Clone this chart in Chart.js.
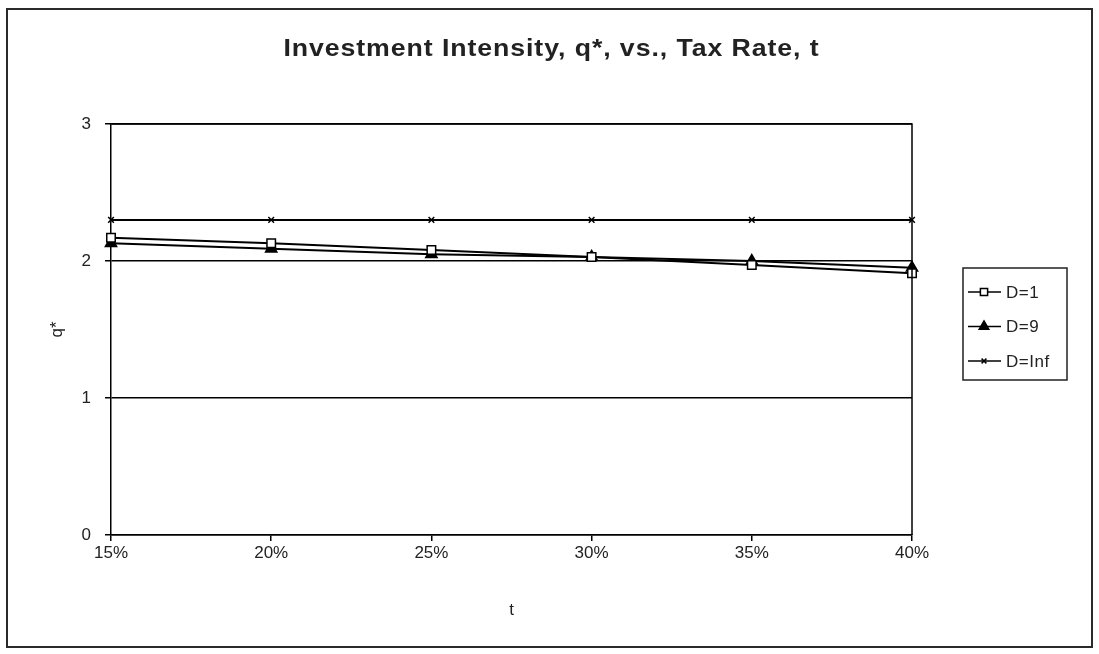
<!DOCTYPE html>
<html>
<head>
<meta charset="utf-8">
<script src="https://cdn.jsdelivr.net/npm/chart.js@4/dist/chart.umd.min.js"></script>
<style>
  html, body { margin: 0; padding: 0; background: #fff; }
  #wrap { width: 1099px; height: 654px; }
</style>
</head>
<body>
<div id="wrap"><canvas id="c" width="1099" height="654"></canvas></div>
<script>
// Tax rates on the horizontal axis
const taxRates = ['15%', '20%', '25%', '30%', '35%', '40%'];
// Optimal investment intensity q* for each depreciation horizon D
const qD1   = [2.17, 2.13, 2.08, 2.03, 1.97, 1.91];
const qD9   = [2.13, 2.09, 2.05, 2.03, 2.00, 1.95];
const qDInf = [2.30, 2.30, 2.30, 2.30, 2.30, 2.30];
const seriesNames = ['D=1', 'D=9', 'D=Inf'];
const yTicks = [0, 1, 2, 3];

const chartTitle = 'Investment Intensity, q*, vs., Tax Rate, t';
const xTitle = 't';
const yTitle = 'q*';

const FONT = '"Liberation Sans", Arial, sans-serif';

// White page with a dark frame, the title, and the closing border of the plot area
const framePlugin = {
  id: 'frame',
  beforeDraw(chart) {
    const ctx = chart.ctx;
    ctx.save();
    ctx.fillStyle = '#fff';
    ctx.fillRect(0, 0, chart.width, chart.height);
    ctx.strokeStyle = '#2a2a2a';
    ctx.lineWidth = 2;
    ctx.strokeRect(7, 9, 1085, 638);
    ctx.restore();
  },
  afterDatasetsDraw(chart) {
    const a = chart.chartArea;
    const ctx = chart.ctx;
    ctx.save();
    ctx.strokeStyle = '#000';
    ctx.lineWidth = 1.5;
    ctx.beginPath();
    ctx.moveTo(a.left, a.top);
    ctx.lineTo(a.right, a.top);
    ctx.lineTo(a.right, a.bottom);
    ctx.stroke();
    ctx.restore();
  },
  afterDraw(chart) {
    const ctx = chart.ctx;
    ctx.save();
    ctx.fillStyle = '#222';
    ctx.font = 'bold 23px ' + FONT;
    ctx.letterSpacing = '0.8px';
    ctx.textAlign = 'center';
    ctx.textBaseline = 'middle';
    // slightly widened lettering
    ctx.translate(chart.width / 2 + 2, 50);
    ctx.scale(1.16, 1);
    ctx.fillText(chartTitle, 0, 0);
    ctx.restore();
  }
};

// Boxed legend on the right: line - marker - line, then the series name
const boxLegendPlugin = {
  id: 'boxLegend',
  afterDraw(chart) {
    const ctx = chart.ctx;
    const x0 = 963, y0 = 268, w = 104, h = 112;
    ctx.save();
    ctx.strokeStyle = '#222';
    ctx.lineWidth = 1.5;
    ctx.strokeRect(x0, y0, w, h);
    chart.data.datasets.forEach((ds, i) => {
      const y = y0 + 24 + i * 34.5;
      ctx.strokeStyle = '#000';
      ctx.lineWidth = 1.5;
      ctx.beginPath();
      ctx.moveTo(x0 + 5, y);
      ctx.lineTo(x0 + 38, y);
      ctx.stroke();
      ctx.fillStyle = ds.pointBackgroundColor;
      ctx.strokeStyle = '#000';
      Chart.helpers.drawPoint(ctx, {
        pointStyle: ds.pointStyle,
        radius: ds.pointRadius * 0.85,
        borderWidth: ds.pointBorderWidth
      }, x0 + 21, y);
      ctx.fillStyle = '#222';
      ctx.font = '17px ' + FONT;
      ctx.letterSpacing = '0.5px';
      ctx.textAlign = 'left';
      ctx.textBaseline = 'middle';
      ctx.fillText(ds.label, x0 + 43, y + 1);
    });
    ctx.restore();
  }
};

function series(label, data, style, radius, fill) {
  return {
    label, data,
    borderColor: '#000',
    borderWidth: 2,
    pointStyle: style,
    pointRadius: radius,
    pointHoverRadius: radius,
    pointBorderWidth: 1.5,
    pointBorderColor: '#000',
    pointBackgroundColor: fill,
    tension: 0
  };
}

new Chart(document.getElementById('c'), {
  type: 'line',
  data: {
    labels: taxRates,
    datasets: [
      series(seriesNames[0], qD1, 'rect', 6, '#fff'),
      series(seriesNames[1], qD9, 'triangle', 6.5, '#000'),
      series(seriesNames[2], qDInf, 'crossRot', 4, '#000')
    ]
  },
  options: {
    responsive: false,
    animation: false,
    events: [],
    layout: { padding: { left: 47, right: 187, top: 124, bottom: 33 } },
    plugins: {
      legend: { display: false },
      title: { display: false },
      tooltip: { enabled: false }
    },
    scales: {
      x: {
        type: 'category',
        offset: false,
        afterFit(s) { s.height = 86; },
        border: { color: '#000', width: 1.5 },
        grid: {
          drawOnChartArea: false,
          drawTicks: true,
          tickLength: 6,
          color: '#000',
          lineWidth: 1.5
        },
        ticks: {
          color: '#222',
          font: { family: FONT, size: 17 },
          padding: 2,
          maxRotation: 0
        },
        title: {
          display: true,
          text: xTitle,
          color: '#222',
          font: { family: FONT, size: 17 },
          padding: 0
        }
      },
      y: {
        min: 0,
        max: 3,
        afterFit(s) { s.width = 64; },
        afterBuildTicks(s) { s.ticks = yTicks.map(v => ({ value: v })); },
        border: { color: '#000', width: 1.5 },
        grid: {
          color: '#000',
          lineWidth: 1.5,
          drawTicks: true,
          tickLength: 6
        },
        ticks: {
          color: '#222',
          font: { family: FONT, size: 17 },
          padding: 14
        },
        title: {
          display: true,
          text: yTitle,
          color: '#222',
          font: { family: FONT, size: 17 },
          padding: 0
        }
      }
    }
  },
  plugins: [framePlugin, boxLegendPlugin]
});
</script>
</body>
</html>
